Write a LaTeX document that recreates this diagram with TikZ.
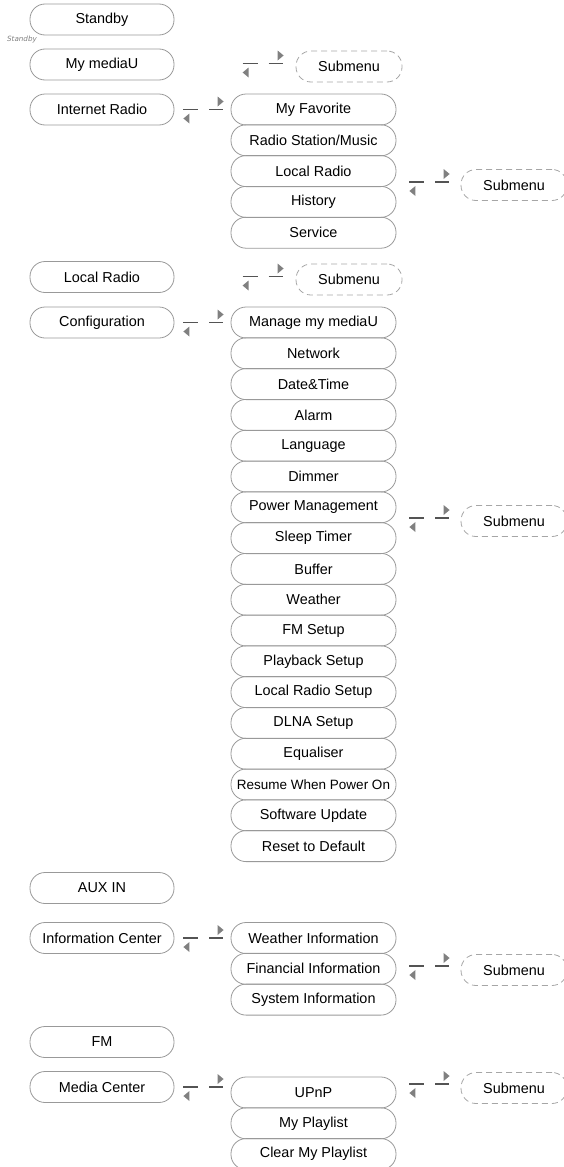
\documentclass[tikz,border=0pt]{standalone}
\usepackage{fontspec}
\setmainfont{Liberation Sans}
\newfontfamily\notefont{DejaVu Sans}
\usetikzlibrary{calc, %for the link ends
                decorations.markings, %for the small triangles
                positioning}

\begin{document}
\begin{tikzpicture}[x=1pt, y=1pt,
                    menu/.style={draw=gray!80, line width=0.8pt, rounded corners=15pt, minimum width=144pt,
                                 minimum height=31pt, inner sep=0pt, font=\fontsize{14.4}{16}\selectfont},
                    item/.style={menu, minimum width=165pt},
                    submenu/.style={menu, draw=gray!70, dash pattern=on 6pt off 4pt, minimum width=106pt},
                    link/.style={draw=black!67, line width=1.8pt, dash pattern=on 15pt off 11pt,
                                 postaction={decorate, decoration={markings,
                                   mark=at position 0 with {\fill[black!50] (6,-4) -- (6,-14) -- (0,-9) -- cycle;},
                                   mark=at position 1 with {\fill[black!50] (-5,3) -- (-5,13) -- (1,8) -- cycle;}}}}
                    ]
    \useasboundingbox (0,0) rectangle (564,-1167);
    %main menu
    \node[menu] (standby) at (102,-19.5)  {Standby};
    \node[text=gray, font=\notefont\itshape\fontsize{7.2}{8}\selectfont] (note) at (22,-40) {Standby};
    \node[menu] (mu)      at (102,-64.5)  {My mediaU};
    \node[menu] (ir)      at (102,-109.5) {Internet Radio};
    \node[menu] (lr)      at (102,-277)   {Local Radio};
    \node[menu] (cfg)     at (102,-322.5) {Configuration};
    \node[menu] (aux)     at (102,-888)   {AUX IN};
    \node[menu] (info)    at (102,-938)   {Information Center};
    \node[menu] (fm)      at (102,-1042)  {FM};
    \node[menu] (mc)      at (102,-1087)  {Media Center};

    %second level
    \foreach \t [count=\i from 0] in {My Favorite, Radio Station/Music, Local Radio, History, Service}
        \node[item] (ir\i) at (313.5,{-109.5-30.8*\i}) {\t};
    \foreach \t [count=\i from 0] in {Manage my mediaU, Network, Date\&Time, Alarm, Language, Dimmer,
            Power Management, Sleep Timer, Buffer, Weather, FM Setup, Playback Setup, Local Radio Setup,
            DLNA Setup, Equaliser, {\fontsize{13.5}{16}\selectfont Resume When Power On}, Software Update,
            Reset to Default}
        \node[item] (cfg\i) at (313.5,{-322.5-30.8*\i}) {\t};
    \foreach \t [count=\i from 0] in {Weather Information, Financial Information, System Information}
        \node[item] (info\i) at (313.5,{-938-30.8*\i}) {\t};
    \foreach \t [count=\i from 0] in {UPnP, My Playlist, Clear My Playlist}
        \node[item] (mc\i) at (313.5,{-1092.5-30.8*\i}) {\t};

    %submenus
    \node[submenu] (musub)   at (349,-66.5)  {Submenu};
    \node[submenu] (lrsub)   at (349,-279.5) {Submenu};
    \node[submenu] (irsub)   at (514,-185)   {Submenu};
    \node[submenu] (cfgsub)  at (514,-521)   {Submenu};
    \node[submenu] (infosub) at (514,-970)   {Submenu};
    \node[submenu] (mcsub)   at (514,-1088)  {Submenu};

    %links
    \draw[link] ([xshift=9pt]ir.east)   -- ([xshift=-8pt]ir.east -| ir0.west);
    \draw[link] ([xshift=9pt]cfg.east)  -- ([xshift=-8pt]cfg.east -| cfg0.west);
    \draw[link] ([xshift=9pt]info.east) -- ([xshift=-8pt]info.east -| info0.west);
    \draw[link] ([xshift=9pt]mc.east)   -- ([xshift=-8pt]mc.east -| mc0.west);

    \draw[link] ($(musub.west)+(-53,3)$) -- ($(musub.west)+(-13,3)$);
    \draw[link] ($(lrsub.west)+(-53,3)$) -- ($(lrsub.west)+(-13,3)$);

    \draw[link] ($(ir2.east |- irsub.west)+(13,3)$)    -- ($(irsub.west)+(-12,3)$);
    \draw[link] ($(cfg6.east |- cfgsub.west)+(13,3)$)  -- ($(cfgsub.west)+(-12,3)$);
    \draw[link] ($(info1.east |- infosub.west)+(13,4)$) -- ($(infosub.west)+(-12,4)$);
    \draw[link] ($(mc0.east |- mcsub.west)+(13,4)$)    -- ($(mcsub.west)+(-12,4)$);

\end{tikzpicture}
\end{document}
